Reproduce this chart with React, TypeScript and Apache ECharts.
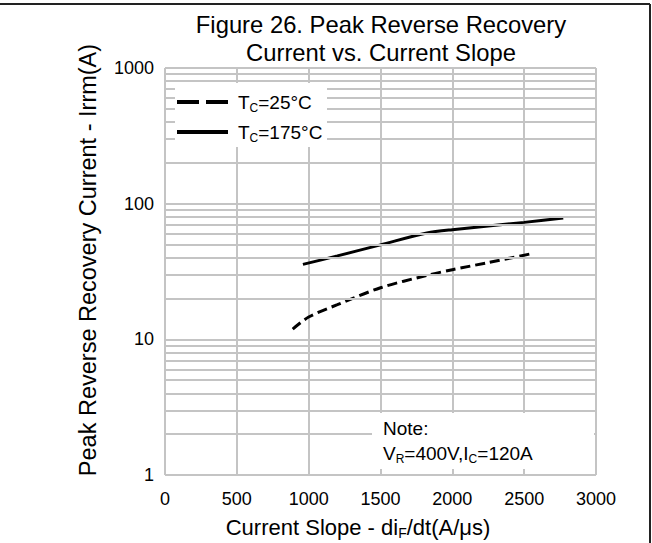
import React, { useEffect, useRef } from "react";
import * as echarts from "echarts";

const FONT = "'Liberation Sans', Arial, sans-serif";

// Data
const SLOPE_25 = [889, 1000, 1200, 1500, 1823, 2000, 2250, 2552];
const IRRM_25 = [11.9, 14.6, 18.0, 24.0, 29.6, 32.6, 36.8, 42.8];
const SLOPE_175 = [960, 1200, 1500, 1823, 2000, 2500, 2772];
const IRRM_175 = [35.7, 41.2, 49.7, 60.7, 64.3, 72.8, 78.3];

// Axis settings / tick lists
const X_MIN = 0;
const X_MAX = 3000;
const X_INTERVAL = 500;
const Y_MIN = 1;
const Y_MAX = 1000;
const MINOR_Y = [2, 3, 4, 5, 6, 7, 8, 9, 20, 30, 40, 50, 60, 70, 80, 90, 200, 300, 400, 500, 600, 700, 800, 900];

const TITLE_TEXT = "Figure 26. Peak Reverse Recovery\nCurrent vs. Current Slope";
const Y_NAME = "Peak Reverse Recovery Current - Irrm(A)";
const X_NAME = "{t|Current Slope - di}{s|F}{t|/dt(A/μs)}";
const NOTE_1 = "Note:";
const NOTE_2 = "{t|V}{s|R}{t|=400V,I}{s|C}{t|=120A}";
const LEGEND_25 = "{t|T}{s|C}{t|=25°C}";
const LEGEND_175 = "{t|T}{s|C}{t|=175°C}";

const GRID_COLOR = "#c4c4c4";

export default function App() {
  const ref = useRef<HTMLDivElement>(null);
  useEffect(() => {
    if (!ref.current) return;
    const chart = echarts.init(ref.current, undefined, { renderer: "svg" });
    const sub = (fs: number) => ({
      t: { fontSize: fs, fontFamily: FONT, color: "#000", lineHeight: fs + 4 },
      s: { fontSize: Math.round(fs * 0.65), fontFamily: FONT, color: "#000", lineHeight: Math.round(fs * 0.65) + 2, verticalAlign: "bottom" },
    });
    const Z = 100;
    chart.setOption({
      animation: false,
      backgroundColor: "#fff",
      grid: { left: 165, top: 68, right: 56, bottom: 68 },
      xAxis: {
        type: "value",
        min: X_MIN,
        max: X_MAX,
        interval: X_INTERVAL,
        axisLine: { show: false },
        axisTick: { show: false },
        axisLabel: { fontSize: 18, fontFamily: FONT, color: "#000", margin: 15, formatter: (v: number) => String(v) },
        splitLine: { show: true, lineStyle: { color: GRID_COLOR, width: 2 } },
      },
      yAxis: {
        type: "log",
        logBase: 10,
        min: Y_MIN,
        max: Y_MAX,
        axisLine: { show: false },
        axisTick: { show: false },
        axisLabel: { fontSize: 18, fontFamily: FONT, color: "#000", margin: 11, formatter: (v: number) => String(v) },
        splitLine: { show: true, lineStyle: { color: GRID_COLOR, width: 2 } },
      },
      graphic: [
        {
          type: "text",
          x: 381,
          y: 10,
          z: Z,
          style: { text: TITLE_TEXT, align: "center", verticalAlign: "top", font: `23.8px ${FONT}`, fill: "#000", lineHeight: 28 },
        },
        {
          type: "text",
          x: 88,
          y: 260,
          z: Z,
          rotation: Math.PI / 2,
          style: { text: Y_NAME, align: "center", verticalAlign: "middle", font: `23.5px ${FONT}`, fill: "#000" },
        },
        {
          type: "text",
          x: 358,
          y: 527,
          z: Z,
          style: { text: X_NAME, align: "center", verticalAlign: "middle", rich: sub(22) },
        },
        // Legend box (drawn by hand so the dashed sample matches)
        { type: "rect", z: Z, shape: { x: 175, y: 83, width: 152, height: 64 }, style: { fill: "#fff" } },
        { type: "line", z: Z + 1, shape: { x1: 177, y1: 102, x2: 228, y2: 102 }, style: { stroke: "#000", lineWidth: 4, lineDash: [22, 7] } },
        { type: "line", z: Z + 1, shape: { x1: 177, y1: 132, x2: 228, y2: 132 }, style: { stroke: "#000", lineWidth: 4 } },
        { type: "text", z: Z + 1, x: 238, y: 102, style: { text: LEGEND_25, align: "left", verticalAlign: "middle", rich: sub(19) } },
        { type: "text", z: Z + 1, x: 238, y: 132, style: { text: LEGEND_175, align: "left", verticalAlign: "middle", rich: sub(19) } },
        // Note box
        { type: "rect", z: Z, shape: { x: 372, y: 413, width: 222, height: 56 }, style: { fill: "#fff" } },
        { type: "text", z: Z + 1, x: 383, y: 428, style: { text: NOTE_1, align: "left", verticalAlign: "middle", font: `19px ${FONT}`, fill: "#000" } },
        { type: "text", z: Z + 1, x: 383, y: 453, style: { text: NOTE_2, align: "left", verticalAlign: "middle", rich: sub(19) } },
        // Frame
        { type: "line", z: Z, shape: { x1: 0, y1: 4, x2: 650, y2: 4 }, style: { stroke: "#222", lineWidth: 2 } },
        { type: "line", z: Z, shape: { x1: 650, y1: 4, x2: 650, y2: 543 }, style: { stroke: "#222", lineWidth: 2 } },
      ],
      series: [
        {
          name: "grid",
          type: "line",
          data: [],
          silent: true,
          z: 1,
          markLine: {
            silent: true,
            symbol: "none",
            label: { show: false },
            lineStyle: { color: GRID_COLOR, width: 2, type: "solid" },
            data: MINOR_Y.map((v) => ({ yAxis: v })),
          },
        },
        {
          name: "Tc25",
          type: "line",
          smooth: 0.3,
          symbol: "none",
          z: 3,
          lineStyle: { color: "#000", width: 3, type: [10, 5] },
          itemStyle: { color: "#000" },
          data: SLOPE_25.map((x, i) => [x, IRRM_25[i]]),
        },
        {
          name: "Tc175",
          type: "line",
          smooth: 0.3,
          symbol: "none",
          z: 3,
          lineStyle: { color: "#000", width: 3, type: "solid" },
          itemStyle: { color: "#000" },
          data: SLOPE_175.map((x, i) => [x, IRRM_175[i]]),
        },
      ],
    });
    return () => chart.dispose();
  }, []);
  return <div ref={ref} style={{ position: "fixed", left: 0, top: 0, width: 652, height: 543 }} />;
}
